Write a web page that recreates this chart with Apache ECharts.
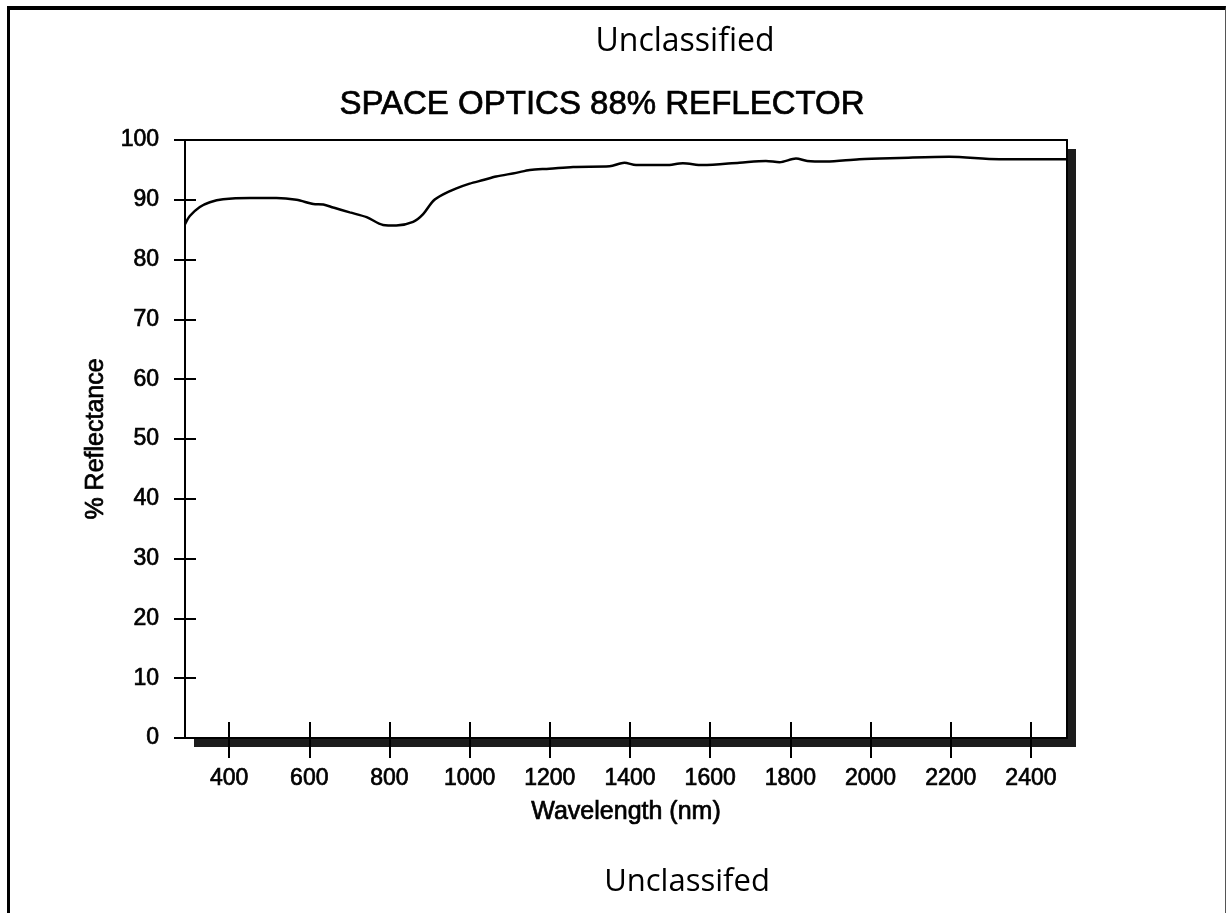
<!DOCTYPE html>
<html>
<head>
<meta charset="utf-8">
<script src="https://cdn.jsdelivr.net/npm/echarts@6/dist/echarts.min.js"></script>
<style>
    body { margin: 0; background: #fff; }
    #chart { position: absolute; left: 0; top: 0; width: 1229px; height: 913px; }
    .page-frame {
        position: absolute;
        left: 7px;
        top: 6px;
        width: 1215px;
        height: 920px;
        border-left: 3px solid #000;
        border-top: 4px solid #000;
        border-right: 1px solid #555;
    }
</style>
</head>
<body>
<div class="page-frame"></div>
<div id="chart"></div>
<script>
// wavelength (nm) and % reflectance
const wavelength = [
    290, 302, 327, 352, 385, 452, 518, 568, 610, 635, 660, 701, 743, 784, 817, 859, 884, 909,
    934, 967, 1000, 1034, 1066, 1116, 1150, 1199, 1258, 1349, 1386, 1415, 1490, 1532, 1581,
    1673, 1739, 1773, 1814, 1842, 1889, 1972, 2072, 2196, 2321, 2488,
];
const reflectance = [
    85.9, 87.3, 88.8, 89.6, 90.1, 90.3, 90.3, 90.0, 89.3, 89.2, 88.7, 87.9, 87.1, 85.8, 85.7,
    86.3, 87.6, 89.8, 90.9, 91.9, 92.7, 93.3, 93.9, 94.5, 95.0, 95.2, 95.5, 95.6, 96.2, 95.8,
    95.8, 96.1, 95.8, 96.2, 96.5, 96.3, 96.9, 96.5, 96.4, 96.8, 97.0, 97.2, 96.8, 96.8,
];
const xTicks = [400, 600, 800, 1000, 1200, 1400, 1600, 1800, 2000, 2200, 2400];

const chart = echarts.init(document.getElementById("chart"));
// scanned print looks heavier than plain Arial, so thicken a little
const ink = { color: "#000", textBorderColor: "#000", textBorderWidth: 0.7 };
const tickFont = { fontFamily: "Liberation Sans, Arial", fontSize: 23, ...ink };
const axisStroke = { color: "#000", width: 2 };
const bare = { axisLabel: { show: false }, splitLine: { show: false } };

chart.setOption({
    animation: false,
    grid: {
        left: 185,
        right: 162,
        top: 140,
        bottom: 175,
        show: true,
        backgroundColor: "#fff",
        borderWidth: 0,
        borderColor: "transparent",
        shadowColor: "#1c1c1c",
        shadowBlur: 0,
        shadowOffsetX: 9,
        shadowOffsetY: 9,
    },
    graphic: [
        {
            type: "text",
            x: 685,
            y: 42,
            style: { text: "Unclassified", font: "32px 'Open Sans'", fill: "#000", align: "center", verticalAlign: "middle" },
        },
        {
            type: "text",
            x: 602,
            y: 105,
            style: {
                text: "SPACE OPTICS 88% REFLECTOR",
                font: "33px 'Liberation Sans'",
                fill: "#000",
                stroke: "#000",
                lineWidth: 0.7,
                align: "center",
                verticalAlign: "middle",
            },
        },
        {
            type: "text",
            x: 687,
            y: 882,
            style: { text: "Unclassifed", font: "31px 'Open Sans'", fill: "#000", align: "center", verticalAlign: "middle" },
        },
    ],
    xAxis: [
        {
            type: "value",
            min: 290,
            max: 2490,
            name: "Wavelength (nm)",
            nameLocation: "middle",
            nameGap: 62,
            nameTextStyle: { fontFamily: "Liberation Sans, Arial", fontSize: 25, ...ink },
            axisLine: { lineStyle: axisStroke },
            axisTick: { show: true, length: 20, customValues: xTicks, lineStyle: axisStroke },
            axisLabel: { ...tickFont, margin: 29, customValues: xTicks, formatter: (v) => String(v) },
            splitLine: { show: false },
        },
        {
            type: "value",
            position: "bottom",
            min: 290,
            max: 2490,
            axisLine: { show: false },
            axisTick: { show: true, inside: true, length: 16, customValues: xTicks, lineStyle: axisStroke },
            ...bare,
        },
        {
            // top edge of the plot frame
            type: "value",
            position: "top",
            min: 290,
            max: 2490,
            axisLine: { show: true, onZero: false, lineStyle: axisStroke },
            axisTick: { show: false },
            ...bare,
        },
    ],
    yAxis: [
        {
            type: "value",
            min: 0,
            max: 100,
            interval: 10,
            name: "% Reflectance",
            nameLocation: "middle",
            nameGap: 76,
            nameTextStyle: { fontFamily: "Liberation Sans, Arial", fontSize: 25, ...ink },
            axisLine: { show: true, lineStyle: axisStroke },
            axisTick: { show: true, length: 11, lineStyle: axisStroke },
            axisLabel: { ...tickFont, margin: 26 },
            splitLine: { show: false },
        },
        {
            type: "value",
            position: "left",
            min: 0,
            max: 100,
            interval: 10,
            axisLine: { show: false },
            axisTick: { show: true, inside: true, length: 11, lineStyle: axisStroke },
            ...bare,
        },
        {
            // right edge of the plot frame
            type: "value",
            position: "right",
            min: 0,
            max: 100,
            interval: 10,
            axisLine: { show: true, onZero: false, lineStyle: axisStroke },
            axisTick: { show: false },
            ...bare,
        },
    ],
    series: [
        {
            type: "line",
            xAxisIndex: 0,
            yAxisIndex: 0,
            data: wavelength.map((w, i) => [w, reflectance[i]]),
            showSymbol: false,
            smooth: 0.3,
            lineStyle: { color: "#000", width: 2.5 },
        },
    ],
});
</script>
</body>
</html>
